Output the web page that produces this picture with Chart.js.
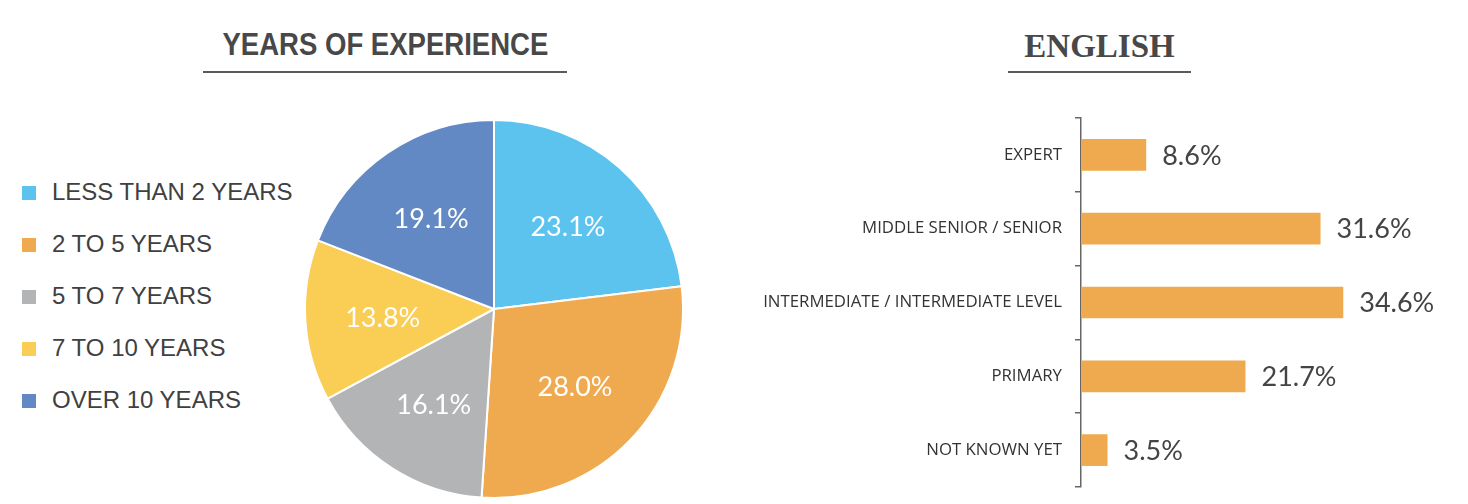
<!DOCTYPE html>
<html>
<head>
<meta charset="utf-8">
<script src="https://cdn.jsdelivr.net/npm/chart.js@4/dist/chart.umd.min.js"></script>
<style>
  html, body { margin: 0; padding: 0; background: #fff; }
  body { width: 1468px; height: 504px; position: relative; overflow: hidden; font-family: "Liberation Sans", Arial, sans-serif; }
  .title1 { position: absolute; left: 185px; width: 400px; top: 26px; text-align: center; color: #484848; white-space: nowrap;
            font: bold 32px "Liberation Sans", Arial, sans-serif; }
  .title1 span { display: inline-block; transform: scaleX(0.86); }
  .title2 { position: absolute; left: 1008px; width: 183px; top: 28px; text-align: center; color: #484848; white-space: nowrap;
            font: bold 33px "Liberation Serif", "Times New Roman", serif; }
  .rule { position: absolute; height: 2px; background: #5a5a5a; }
  #legend { position: absolute; left: 22px; top: 0; }
  .li { position: absolute; left: 0; white-space: nowrap; height: 30px; line-height: 30px; color: #404040;
        font: 24px "Liberation Sans", Arial, sans-serif; }
  .li i { position: absolute; left: 0; top: 8px; width: 14px; height: 14px; }
  .li span { position: absolute; left: 30px; top: 0; }
  #pieWrap { position: absolute; left: 300px; top: 115px; width: 388px; height: 388px; }
  #barWrap { position: absolute; left: 740px; top: 110px; width: 728px; height: 385px; }
</style>
</head>
<body>
<div class="title1"><span>YEARS OF EXPERIENCE</span></div>
<div class="rule" style="left:203px; top:71px; width:364px;"></div>
<div class="title2">ENGLISH</div>
<div class="rule" style="left:1008px; top:71px; width:183px;"></div>
<div id="legend"></div>
<div id="pieWrap"><canvas id="pie"></canvas></div>
<div id="barWrap"><canvas id="bar"></canvas></div>
<script>
// ---- data ----
const expCategories = ["LESS THAN 2 YEARS", "2 TO 5 YEARS", "5 TO 7 YEARS", "7 TO 10 YEARS", "OVER 10 YEARS"];
const expValues = [23.1, 28.0, 16.1, 13.8, 19.1];
const expColors = ["#5BC3EE", "#EFAA4F", "#B3B4B6", "#FACD55", "#6289C3"];

const engCategories = ["EXPERT", "MIDDLE SENIOR / SENIOR", "INTERMEDIATE / INTERMEDIATE LEVEL", "PRIMARY", "NOT KNOWN YET"];
const engValues = [8.6, 31.6, 34.6, 21.7, 3.5];
const engColor = "#EFAA4F";

// ---- legend (HTML, built from arrays) ----
const legend = document.getElementById('legend');
expCategories.forEach((c, i) => {
  const d = document.createElement('div');
  d.className = 'li';
  d.style.top = (190 - 12 + i * 52) + 'px';
  d.innerHTML = '<i style="background:' + expColors[i] + '"></i><span>' + c + '</span>';
  legend.appendChild(d);
});

const valueFont = '27px Lato, "DejaVu Sans", sans-serif';

const pieLabels = {
  id: 'pieLabels',
  afterDatasetsDraw(chart) {
    const ctx = chart.ctx;
    const meta = chart.getDatasetMeta(0);
    ctx.save();
    ctx.fillStyle = '#ffffff';
    ctx.font = valueFont;
    ctx.textAlign = 'center';
    ctx.textBaseline = 'middle';
    meta.data.forEach((arc, i) => {
      const p = arc.getProps(['x', 'y', 'startAngle', 'endAngle', 'outerRadius'], true);
      const a = (p.startAngle + p.endAngle) / 2;
      const r = p.outerRadius * 0.59;
      ctx.fillText(expValues[i].toFixed(1) + '%', p.x + Math.cos(a) * r, p.y + Math.sin(a) * r + 2);
    });
    ctx.restore();
  }
};

new Chart(document.getElementById('pie'), {
  type: 'pie',
  data: {
    labels: expCategories,
    datasets: [{ data: expValues, backgroundColor: expColors, borderColor: '#ffffff', borderWidth: 2 }]
  },
  options: {
    responsive: true, maintainAspectRatio: false, animation: false,
    layout: { padding: 4 },
    plugins: { legend: { display: false }, tooltip: { enabled: false } }
  },
  plugins: [pieLabels]
});

const barLabels = {
  id: 'barLabels',
  afterDatasetsDraw(chart) {
    const ctx = chart.ctx;
    const meta = chart.getDatasetMeta(0);
    ctx.save();
    ctx.fillStyle = '#444444';
    ctx.font = valueFont;
    ctx.textAlign = 'left';
    ctx.textBaseline = 'middle';
    meta.data.forEach((bar, i) => {
      ctx.fillText(engValues[i].toFixed(1) + '%', bar.x + 16, bar.y + 1);
    });
    ctx.restore();
  }
};

new Chart(document.getElementById('bar'), {
  type: 'bar',
  data: {
    labels: engCategories,
    datasets: [{ data: engValues, backgroundColor: engColor, barPercentage: 0.43, categoryPercentage: 1.0 }]
  },
  options: {
    indexAxis: 'y',
    responsive: true, maintainAspectRatio: false, animation: false,
    layout: { padding: { top: 8, bottom: 8, left: 0, right: 8 } },
    plugins: { legend: { display: false }, tooltip: { enabled: false } },
    scales: {
      x: { display: false, min: 0, max: 50 },
      y: {
        afterFit: (s) => { s.width = 341; s.paddingTop = 0; s.paddingBottom = 0; },
        border: { display: true, color: '#666666', width: 1.5 },
        grid: { drawOnChartArea: false, drawTicks: true, tickLength: 6, color: '#666666', lineWidth: 1.5 },
        ticks: { color: '#333333', padding: 13, font: { family: '"Open Sans", sans-serif', size: 16.8 } }
      }
    }
  },
  plugins: [barLabels]
});
</script>
</body>
</html>
